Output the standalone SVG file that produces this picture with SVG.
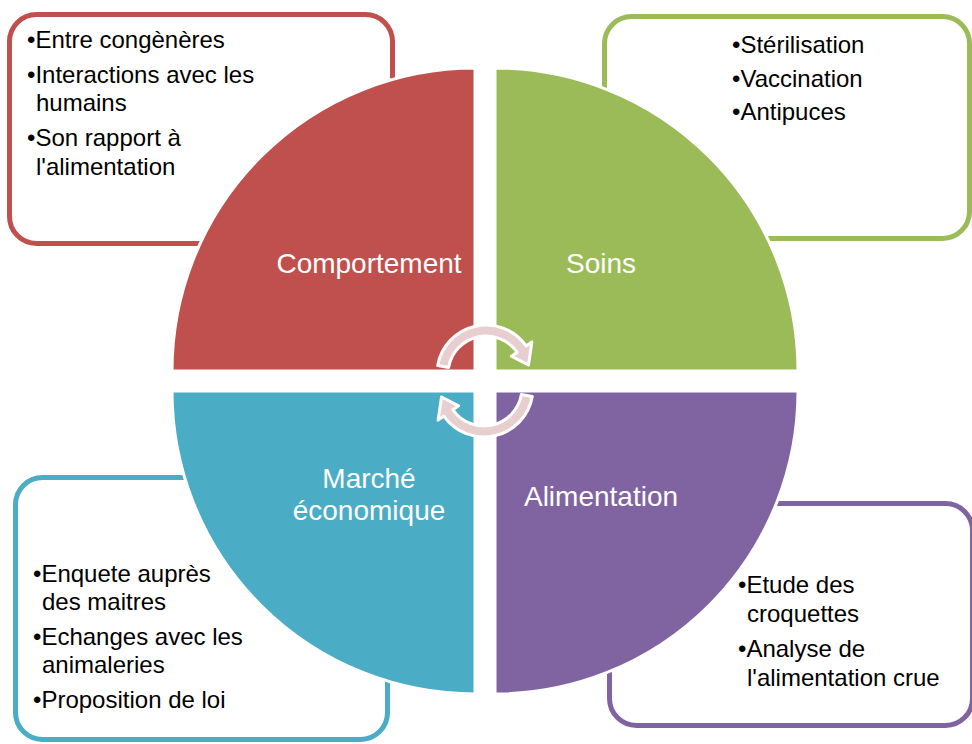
<svg xmlns="http://www.w3.org/2000/svg" width="972" height="744" viewBox="0 0 972 744">
<style>
.box{fill:#ffffff;stroke-width:5}
.q{stroke:#ffffff;stroke-width:3}
.body{font-family:"Liberation Sans",Arial,sans-serif;font-size:24px;fill:#000000}
.lbl{font-family:"Liberation Sans",Arial,sans-serif;font-size:28px;fill:#ffffff;text-anchor:middle}
.arr{fill:#E8CFCF;stroke:#ffffff;stroke-width:3;stroke-linejoin:round}
</style>
<rect width="972" height="744" fill="#ffffff"/>
<g id="box-comportement">
<rect class="box" x="9.5" y="14.5" width="383" height="229" rx="27" stroke="#C0504D"/>
<text class="body" x="27" y="48">•Entre congènères</text>
<text class="body" x="27" y="83">•Interactions avec les</text>
<text class="body" x="36" y="111">humains</text>
<text class="body" x="27" y="146">•Son rapport à</text>
<text class="body" x="36" y="175">l'alimentation</text>
</g>
<g id="box-soins">
<rect class="box" x="604.5" y="16.5" width="365" height="222" rx="27" stroke="#9BBB59"/>
<text class="body" x="732" y="53">•Stérilisation</text>
<text class="body" x="732" y="87">•Vaccination</text>
<text class="body" x="732" y="120">•Antipuces</text>
</g>
<g id="box-marche">
<rect class="box" x="15.5" y="477.5" width="372" height="262" rx="27" stroke="#4BACC6"/>
<text class="body" x="33" y="582">•Enquete auprès</text>
<text class="body" x="42" y="610">des maitres</text>
<text class="body" x="33" y="645">•Echanges avec les</text>
<text class="body" x="42" y="673">animaleries</text>
<text class="body" x="33" y="708">•Proposition de loi</text>
</g>
<g id="box-alimentation">
<rect class="box" x="609.5" y="503.5" width="363" height="222" rx="27" stroke="#8064A2"/>
<text class="body" x="738" y="593">•Etude des</text>
<text class="body" x="747" y="622">croquettes</text>
<text class="body" x="738" y="657">•Analyse de</text>
<text class="body" x="747" y="686">l'alimentation crue</text>
</g>
<g id="comportement">
<path class="q" fill="#C0504D" d="M475 371 L172 371 A303 303 0 0 1 475 68 Z"/>
<text class="lbl" x="369" y="273">Comportement</text>
</g>
<g id="soins">
<path class="q" fill="#9BBB59" d="M495 371 L495 68 A303 303 0 0 1 798 371 Z"/>
<text class="lbl" x="601" y="273">Soins</text>
</g>
<g id="marche">
<path class="q" fill="#4BACC6" d="M475 391 L475 694 A303 303 0 0 1 172 391 Z"/>
<text class="lbl" x="369" y="488">Marché</text>
<text class="lbl" x="369" y="520">économique</text>
</g>
<g id="alimentation">
<path class="q" fill="#8064A2" d="M495 391 L798 391 A303 303 0 0 1 495 694 Z"/>
<text class="lbl" x="601" y="506">Alimentation</text>
</g>
<g id="connectors">
<path id="arrow-top" class="arr" d="M437.7 365.5 A49 49 0 0 1 526.1 345.9 L531.9 341.9 L528.5 365 L511.4 356.2 L517.1 352.2 A38 38 0 0 0 448.6 367.4 Z"/>
<path id="arrow-bottom" class="arr" transform="rotate(180 485 381)" d="M437.7 365.5 A49 49 0 0 1 526.1 345.9 L531.9 341.9 L528.5 365 L511.4 356.2 L517.1 352.2 A38 38 0 0 0 448.6 367.4 Z"/>
</g>
</svg>
